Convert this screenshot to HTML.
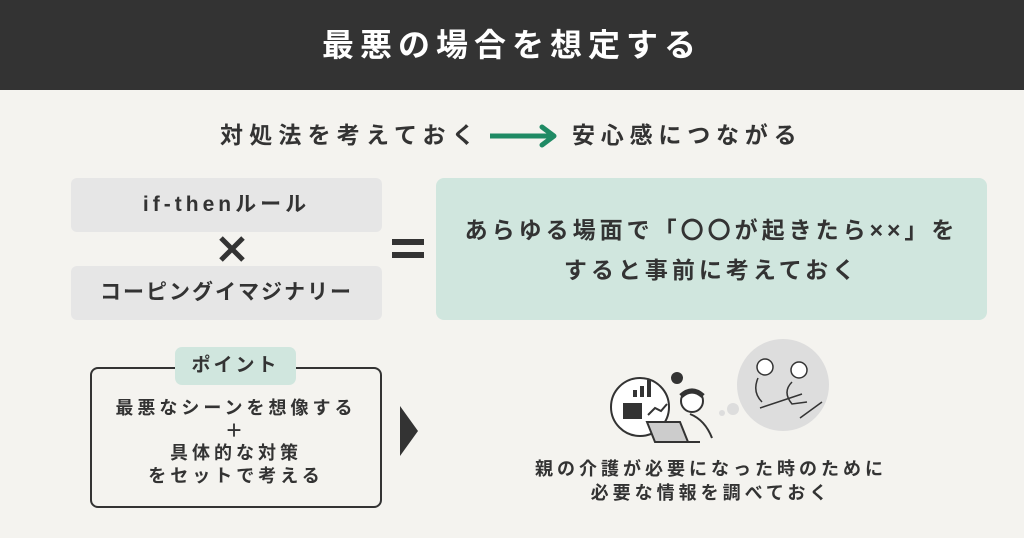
<!DOCTYPE html>
<html><head><meta charset="utf-8"><style>
*{margin:0;padding:0;box-sizing:border-box}
body{width:1024px;height:538px;background:#f4f3ef;position:relative;overflow:hidden;font-family:"Liberation Sans","Noto Sans CJK JP",sans-serif;font-weight:bold;color:#333}
.a{position:absolute;white-space:nowrap}
.c{text-align:center}
</style></head><body>
<div class="a" style="left:0;top:0;width:1024px;height:90px;background:#333"></div>
<div class="a c" style="left:0;top:23px;width:1024px;font-size:32px;line-height:44px;color:#fff;letter-spacing:6px">最悪の場合を想定する</div>

<div class="a" style="left:220px;top:119px;font-size:23px;line-height:32px;letter-spacing:6.2px">対処法を考えておく</div>
<svg class="a" style="left:488px;top:124px" width="72" height="24"><path d="M2 12H64" stroke="#1f8a64" stroke-width="5"/><path d="M54 3L66 12L54 21" fill="none" stroke="#1f8a64" stroke-width="5" stroke-linejoin="round" stroke-linecap="round"/></svg>
<div class="a" style="left:572px;top:119px;font-size:23px;line-height:32px;letter-spacing:5.8px">安心感につながる</div>

<div class="a c" style="left:71px;top:178px;width:311px;height:54px;background:#e6e6e6;border-radius:6px;font-size:21px;line-height:54px;letter-spacing:4px">if-thenルール</div>
<div class="a c" style="left:71px;top:266px;width:311px;height:54px;background:#e6e6e6;border-radius:6px;font-size:21px;line-height:54px;letter-spacing:2px">コーピングイマジナリー</div>
<svg class="a" style="left:217px;top:235px" width="30" height="28"><path d="M4 3L26 25M26 3L4 25" stroke="#333" stroke-width="5"/></svg>
<svg class="a" style="left:390px;top:236px" width="36" height="26"><rect x="2" y="3" width="32" height="6" fill="#333"/><rect x="2" y="16" width="32" height="6" fill="#333"/></svg>

<div class="a" style="left:436px;top:178px;width:551px;height:142px;background:#d0e6de;border-radius:8px"></div>
<div class="a c" style="left:436px;top:210px;width:551px;font-size:23px;line-height:40px;letter-spacing:4px">あらゆる場面で「〇〇が起きたら××」を<br>すると事前に考えておく</div>

<div class="a" style="left:90px;top:367px;width:292px;height:141px;border:2px solid #333;border-radius:8px"></div>
<div class="a c" style="left:175px;top:347px;width:121px;height:38px;background:#d0e6de;border-radius:7px;font-size:19px;line-height:38px;letter-spacing:3px">ポイント</div>
<div class="a c" style="left:90px;top:397px;width:292px;font-size:18px;line-height:22.5px;letter-spacing:4px">最悪なシーンを想像する<br>＋<br>具体的な対策<br>をセットで考える</div>
<svg class="a" style="left:398px;top:404px" width="22" height="54"><path d="M2 2L20 27L2 52Z" fill="#333"/></svg>

<svg class="a" style="left:600px;top:330px" width="260" height="130">
<circle cx="183" cy="55" r="46" fill="#ddd"/>
<circle cx="133" cy="79" r="6" fill="#ddd"/><circle cx="122" cy="83" r="3" fill="#ddd"/>
<circle cx="40" cy="77" r="29" fill="#fff" stroke="#333" stroke-width="2"/>
<rect x="33" y="60" width="4" height="7" fill="#333"/><rect x="40" y="56" width="4" height="11" fill="#333"/><rect x="47" y="50" width="4" height="17" fill="#333"/>
<rect x="23" y="73" width="19" height="16" fill="#333"/>
<path d="M48 85L55 78L61 81L67 74" stroke="#333" fill="none" stroke-width="2"/>
<circle cx="77" cy="48" r="6" fill="#333"/>
<circle cx="92" cy="71" r="11" fill="#fff" stroke="#333" stroke-width="2"/>
<path d="M81 66Q92 56 103 66" stroke="#333" stroke-width="5" fill="none"/>
<path d="M90 84Q105 90 112 108" stroke="#333" fill="none" stroke-width="2"/>
<path d="M47 92L80 92L88 112L55 112Z" fill="#ccc" stroke="#333" stroke-width="2"/>
<path d="M55 112L100 112" stroke="#333" stroke-width="2"/>
<circle cx="165" cy="37" r="8" fill="#fff" stroke="#333" stroke-width="1.5"/>
<circle cx="199" cy="40" r="8" fill="#fff" stroke="#333" stroke-width="1.5"/>
<path d="M158 48Q152 62 162 72M192 52Q182 62 192 74L207 72M160 78L202 64M200 88L222 72" stroke="#333" fill="none" stroke-width="1.5"/>
</svg>

<div class="a c" style="left:511px;top:457px;width:400px;font-size:18px;line-height:24px;letter-spacing:4px">親の介護が必要になった時のために<br>必要な情報を調べておく</div>
</body></html>
